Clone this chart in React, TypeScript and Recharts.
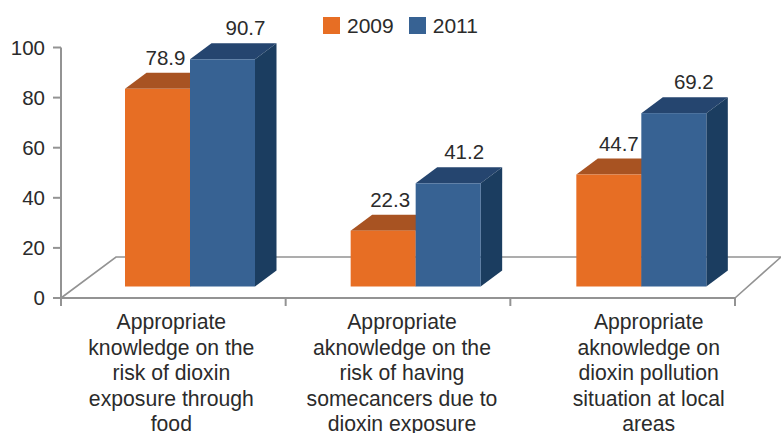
import { BarChart, Bar, XAxis, YAxis, Legend, LabelList, usePlotArea } from "recharts";

const CATEGORIES = ["Food", "Cancers", "Local"];
const CATEGORY_LINES = [
  ["Appropriate", "knowledge on the", "risk of dioxin", "exposure through", "food"],
  ["Appropriate", "aknowledge on the", "risk of having", "somecancers due to", "dioxin exposure"],
  ["Appropriate", "aknowledge on", "dioxin pollution", "situation at local", "areas"],
];
const VALUES_2009 = [78.9, 22.3, 44.7];
const VALUES_2011 = [90.7, 41.2, 69.2];
const Y_TICKS = [0, 20, 40, 60, 80, 100];

const data = CATEGORIES.map((name, i) => ({ name, y2009: VALUES_2009[i], y2011: VALUES_2011[i] }));

const FONT = '"Liberation Sans", Arial, sans-serif';
const TEXT = "#2b2b2b";
const AXIS = "#939393";
const FONT_SIZE = 20.5;

// 3d look: bars sit forward of the floor edge and get a top and a side face
const SHIFT_X = 18;
const BAR_SHIFT = [17, 18, 19];
const SHIFT_Y = -11.5;
const DEPTH_X = 21.5;
const DEPTH_Y = 16;

const LABEL_NUDGE: Record<string, number[]> = {
  y2009: [7, 7, 11],
  y2011: [22, 16, 21],
};
const TICK_NUDGE = [-2, 4, 26];

function Bar3D({ x, y, width, height, index, fill, topFill, sideFill }: any) {
  const l = x + BAR_SHIFT[index];
  const r = l + width;
  const t = y + SHIFT_Y;
  const b = t + height;
  return (
    <g>
      <polygon points={`${l},${t} ${l + DEPTH_X},${t - DEPTH_Y} ${r + DEPTH_X},${t - DEPTH_Y} ${r},${t}`} fill={topFill} />
      <polygon points={`${r},${t} ${r + DEPTH_X},${t - DEPTH_Y} ${r + DEPTH_X},${b - DEPTH_Y} ${r},${b}`} fill={sideFill} />
      <rect x={l} y={t} width={width} height={height} fill={fill} />
    </g>
  );
}

function Floor() {
  const plot = usePlotArea();
  if (!plot) return null;
  const left = plot.x;
  const right = plot.x + plot.width;
  const bottom = plot.y + plot.height;
  const back = bottom - 41;
  return (
    <g>
      <polyline
        points={`${left},${bottom} ${left + 55},${back} ${right + 46},${back} ${right},${bottom}`}
        fill="none"
        stroke={AXIS}
        strokeWidth={1.6}
      />
      <line x1={left - 1} x2={right} y1={bottom} y2={bottom} stroke={AXIS} strokeWidth={2} />
      {[0, 1, 2, 3].map((i) => {
        const tx = left + (plot.width * i) / 3;
        return <line key={i} x1={tx} x2={tx} y1={bottom} y2={bottom + 8} stroke={AXIS} strokeWidth={2} />;
      })}
    </g>
  );
}

function CategoryTick({ x, y, index }: any) {
  return (
    <text x={x + TICK_NUDGE[index]} y={y} textAnchor="middle" fontFamily={FONT} fontSize={21.2} fill={TEXT}>
      {CATEGORY_LINES[index].map((line, i) => (
        <tspan key={i} x={x + TICK_NUDGE[index]} y={y + 23 + i * 25.6}>
          {line}
        </tspan>
      ))}
    </text>
  );
}

const valueLabel = (key: string) => (props: any) => {
  const { x, y, width, value, index } = props;
  return (
    <text
      x={x + width / 2 + SHIFT_X + LABEL_NUDGE[key][index]}
      y={y + SHIFT_Y - 24}
      textAnchor="middle"
      fontFamily={FONT}
      fontSize={FONT_SIZE}
      fill={TEXT}
    >
      {value}
    </text>
  );
};

function LegendContent({ payload }: any) {
  return (
    <div style={{ display: "flex", fontFamily: FONT, fontSize: 21, color: TEXT, lineHeight: "17px" }}>
      {(payload || []).map((p: any) => (
        <div key={p.value} style={{ display: "flex", alignItems: "center", marginRight: 15 }}>
          <span style={{ width: 17, height: 17, background: p.color, marginRight: 7, display: "inline-block" }} />
          {p.value}
        </div>
      ))}
    </div>
  );
}

export default function App() {
  return (
    <div style={{ position: "absolute", left: 0, top: 0, background: "#fff" }}>
      <BarChart
        width={781}
        height={433}
        data={data}
        barCategoryGap="21%"
        barGap={0}
        margin={{ top: 47.5, right: 46, bottom: 0, left: 0 }}
      >
        <Floor />
        <XAxis
          dataKey="name"
          height={135}
          axisLine={false}
          tickLine={false}
          interval={0}
          tick={<CategoryTick />}
        />
        <YAxis
          width={61}
          domain={[0, 100]}
          ticks={Y_TICKS}
          axisLine={{ stroke: AXIS, strokeWidth: 2 }}
          tickLine={{ stroke: AXIS, strokeWidth: 2 }}
          tickSize={8}
          tickMargin={8}
          tick={{ fill: TEXT, fontSize: FONT_SIZE, fontFamily: FONT }}
        />
        <Legend
          layout="horizontal"
          verticalAlign="middle"
          align="center"
          content={<LegendContent />}
          wrapperStyle={{ position: "absolute", left: 323, top: 17, width: "auto", height: 17 }}
        />
        <Bar
          dataKey="y2009"
          name="2009"
          fill="#e76e24"
          barSize={65}
          isAnimationActive={false}
          shape={<Bar3D topFill="#a85322" sideFill="#a85322" />}
        >
          <LabelList dataKey="y2009" content={valueLabel("y2009")} />
        </Bar>
        <Bar
          dataKey="y2011"
          name="2011"
          fill="#376293"
          barSize={65}
          isAnimationActive={false}
          shape={<Bar3D topFill="#25456f" sideFill="#1b3d60" />}
        >
          <LabelList dataKey="y2011" content={valueLabel("y2011")} />
        </Bar>
      </BarChart>
    </div>
  );
}
